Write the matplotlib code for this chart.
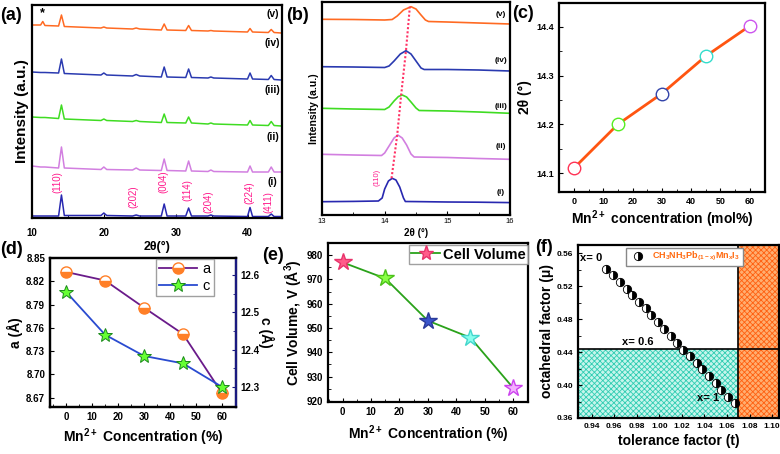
import numpy as np
import matplotlib
matplotlib.use('Agg')
import matplotlib.pyplot as plt
from matplotlib.lines import Line2D
from matplotlib.ticker import MultipleLocator, FormatStrFormatter

plt.rcParams['font.family'] = ['Liberation Sans', 'DejaVu Sans']
plt.rcParams['font.weight'] = 'bold'
plt.rcParams['axes.labelweight'] = 'bold'
plt.rcParams['mathtext.fontset'] = 'custom'
plt.rcParams['mathtext.default'] = 'bf'
plt.rcParams['mathtext.bf'] = 'Liberation Sans:bold'
plt.rcParams['mathtext.rm'] = 'Liberation Sans:bold'
plt.rcParams['axes.linewidth'] = 1.6
plt.rcParams['xtick.direction'] = 'in'
plt.rcParams['ytick.direction'] = 'in'
plt.rcParams['hatch.linewidth'] = 0.6

# ---- (a) XRD patterns (arb. units above each baseline)
xrd_2theta = [10.0, 11.2, 11.5, 11.8, 13.7, 14.1, 14.5, 19.6, 20.0, 20.4, 24.0, 24.5, 25.0,
              28.0, 28.4, 28.8, 31.4, 31.8, 32.2, 34.5, 34.9, 35.3, 40.0, 40.35, 40.7,
              42.9, 43.3, 43.7, 44.7]
xrd_i = [0, 0, 0, 0, 0, 21, 0.5, 0.5, 3, 0.5, 0, 1, 0, 0, 12, 0, 0, 8, 0, 0, 1, 0,
         -0.5, 8.5, -0.5, -0.5, 2, -0.5, -0.5]
xrd_ii = [6, 5, 5, 5, 4, 25, 4, 2.5, 5, 2.5, 2, 4, 2, 1.5, 13, 1.5, 1, 11, 1, 0.5, 2, 0.5,
          0, 6, 0, 0, 5, 0, 0]
xrd_iii = [9, 8.5, 8.5, 8.5, 7.5, 21, 7, 5.5, 7, 5.5, 4.5, 5.5, 4.5, 3.5, 12, 3.5, 3, 9, 3,
           2, 3, 2, 1, 5.5, 1, 0.5, 4.5, 0.5, 0]
xrd_iv = [8, 7.5, 7.5, 7.5, 7, 21, 6.5, 5, 7, 5, 4, 5.5, 4, 3, 13, 3, 2.5, 11, 2.5, 2, 3, 2,
          1, 7, 1, 0.5, 4.5, 0.5, 0]
xrd_v = [8, 8, 11.5, 7.5, 7, 18, 6.5, 5, 6, 5, 4, 5, 4, 3, 9, 3, 2.5, 7.5, 2.5, 2, 2.5, 2,
         1, 4.5, 1, 0.5, 3.5, 0.5, 0]
sample_names = ['(i)', '(ii)', '(iii)', '(iv)', '(v)']
hkl_labels = ['(110)', '(202)', '(004)', '(114)', '(204)', '(224)', '(411)']

# ---- (b) zoom on the (110) reflection
b_i_x = [13.0, 13.5, 13.9, 13.96, 14.0, 14.06, 14.12, 14.18, 14.24, 14.3, 14.33, 14.5, 15.0, 15.5, 16.0]
b_i_y = [13.3, 13.6, 14.0, 17.0, 26.0, 34.0, 36.7, 35.0, 28.0, 17.0, 13.5, 13.4, 13.0, 12.8, 12.4]
b_ii_x = [13.0, 13.5, 13.95, 14.0, 14.08, 14.15, 14.21, 14.28, 14.35, 14.42, 14.47, 15.0, 15.5, 16.0]
b_ii_y = [60.7, 60.0, 59.5, 62.0, 70.0, 77.0, 80.0, 77.0, 70.0, 61.0, 58.0, 57.5, 56.5, 55.7]
b_iii_x = [13.0, 13.5, 14.0, 14.07, 14.15, 14.22, 14.28, 14.35, 14.42, 14.5, 14.55, 15.0, 15.5, 16.0]
b_iii_y = [106.7, 106.0, 105.5, 108.0, 114.0, 118.5, 120.0, 118.0, 113.0, 107.0, 104.5, 104.0, 103.0, 101.7]
b_iv_x = [13.0, 13.5, 14.0, 14.07, 14.15, 14.25, 14.34, 14.42, 14.5, 14.58, 14.63, 15.0, 15.5, 16.0]
b_iv_y = [148.3, 148.0, 147.5, 149.0, 154.0, 161.0, 164.3, 161.0, 154.0, 147.0, 145.5, 145.5, 145.0, 144.0]
b_v_x = [13.0, 13.5, 14.0, 14.12, 14.2, 14.3, 14.42, 14.5, 14.58, 14.65, 14.7, 15.0, 15.5, 16.0]
b_v_y = [195.7, 195.5, 195.0, 195.5, 199.0, 205.0, 208.3, 206.0, 200.0, 195.0, 193.5, 193.0, 192.0, 191.0]

# ---- (c)-(e) versus Mn2+ content
mn_conc = [0, 15, 30, 45, 60]
peak_110 = [14.11, 14.20, 14.263, 14.34, 14.402]
lat_a = [8.832, 8.821, 8.786, 8.752, 8.676]
lat_c = [12.555, 12.440, 12.383, 12.363, 12.300]
cell_vol = [977.0, 970.4, 953.0, 946.0, 925.4]

# ---- (f) tolerance / octahedral factor, x = 0 ... 1
tol_t = [0.953, 0.959, 0.965, 0.971, 0.976, 0.982, 0.988, 0.993, 0.999, 1.004, 1.010,
         1.016, 1.021, 1.027, 1.033, 1.038, 1.044, 1.050, 1.055, 1.061, 1.067]
oct_mu = [0.541, 0.533, 0.525, 0.517, 0.509, 0.501, 0.493, 0.485, 0.476, 0.468, 0.459,
          0.451, 0.443, 0.435, 0.427, 0.419, 0.411, 0.402, 0.394, 0.386, 0.378]
mu_limit = 0.4435
t_limit = 1.07

W, H = 780, 454
fig = plt.figure(figsize=(W / 100, H / 100), dpi=100)


def box(l, t, r, b):
    # axes rectangle from pixel edges
    return [l / W, 1 - b / H, (r - l) / W, (b - t) / H]


def ftext(x, y, s, **kw):
    fig.text(x / W, 1 - y / H, s, **kw)


# ---------------- (a)
ax = fig.add_axes(box(32, 5, 282, 218))
trace_colors = ['#2828b0', '#d27fe0', '#3fdc22', '#2a3ab0', '#ff6a22']
offsets = [2, 46, 92, 138, 185]
for ints, off, col in zip([xrd_i, xrd_ii, xrd_iii, xrd_iv, xrd_v], offsets, trace_colors):
    ax.plot(xrd_2theta, np.array(ints) + off, color=col, lw=1.1)
ax.set_xlim(10, 44.8)
ax.set_ylim(0, 213)
ax.set_yticks([])
ax.xaxis.set_major_locator(MultipleLocator(10))
ax.xaxis.set_minor_locator(MultipleLocator(5))
ax.tick_params(axis='x', labelsize=7, length=3, pad=7)
ax.tick_params(axis='x', which='minor', length=2)
ax.set_xlabel('2θ(°)', fontsize=9, labelpad=2)
ax.set_ylabel('Intensity (a.u.)', fontsize=11, labelpad=2)
hkl_pos = [(13.6, 36), (24.1, 21), (28.3, 36), (31.6, 28), (34.5, 16), (40.2, 25), (42.9, 16)]
for lab, (xx, yy) in zip(hkl_labels, hkl_pos):
    ax.text(xx, yy, lab, rotation=90, color='#ff1a8c', fontsize=7, fontweight='normal',
            ha='center', va='center')
for name, yy in zip(sample_names, [36, 81, 128, 175, 204]):
    ax.text(43.5, yy, name, fontsize=7.5, ha='center', va='center')
ax.text(11.5, 205, '*', fontsize=9, ha='center', va='center')

# ---------------- (b)
axb = fig.add_axes(box(322, 2, 510, 215))
b_traces = [(b_i_x, b_i_y), (b_ii_x, b_ii_y), (b_iii_x, b_iii_y), (b_iv_x, b_iv_y), (b_v_x, b_v_y)]
for (xs, ys), col in zip(b_traces, trace_colors):
    axb.plot(xs, ys, color=col, lw=1.2)
tops = [max(ys) for xs, ys in b_traces]
axb.plot(peak_110, tops, color='#ff3366', ls=(0, (1, 1)), lw=1.5)
axb.set_xlim(13, 16)
axb.set_ylim(0, 213)
axb.set_yticks([])
axb.xaxis.set_major_locator(MultipleLocator(1))
axb.xaxis.set_minor_locator(MultipleLocator(0.5))
axb.tick_params(axis='x', labelsize=5.5, length=3, pad=2)
for lab in axb.get_xticklabels():
    lab.set_fontweight('normal')
axb.set_xlabel('2θ (°)', fontsize=7, labelpad=2)
axb.set_ylabel('Intensity (a.u.)', fontsize=7.5, labelpad=2)
for name, yy in zip(sample_names, [22, 68, 108, 154, 200]):
    axb.text(15.85, yy, name, fontsize=6, ha='center', va='center')
axb.text(13.88, 38, '(110)', rotation=90, color='#ff1a8c', fontsize=5.5, fontweight='normal',
         ha='center', va='center')

# ---------------- (c)
axc = fig.add_axes(box(559, 3, 765, 192))
c_edges = ['#ff3355', '#55ee22', '#3344aa', '#33ddcc', '#cc55ee']
axc.plot(mn_conc, peak_110, color='#ff5511', lw=2, zorder=2)
for xx, yy, ec in zip(mn_conc, peak_110, c_edges):
    axc.plot(xx, yy, 'o', ms=9, mfc='white', mec=ec, mew=1, zorder=3)
axc.set_xlim(-5.1, 65.2)
axc.set_ylim(14.061, 14.449)
axc.xaxis.set_major_locator(MultipleLocator(10))
axc.xaxis.set_minor_locator(MultipleLocator(5))
axc.yaxis.set_major_locator(MultipleLocator(0.1))
axc.yaxis.set_minor_locator(MultipleLocator(0.05))
axc.tick_params(labelsize=6.5, length=3)
axc.tick_params(which='minor', length=2)
axc.set_xlabel('Mn$^{2+}$ concentration (mol%)', fontsize=10, labelpad=2)
axc.set_ylabel('2θ (°)', fontsize=10, labelpad=3)

# ---------------- (d)
axd = fig.add_axes(box(50, 258, 236, 407))
axd.plot(mn_conc, lat_a, color='#6a1b8a', lw=1.3, marker='o', ms=8, mfc='#ff7f27',
         mfcalt='white', fillstyle='bottom', mec='#ff7f27', mew=1)
axd.set_xlim(-6.2, 65.4)
axd.set_ylim(8.658, 8.85)
axd.set_yticks([8.67, 8.70, 8.73, 8.76, 8.79, 8.82, 8.85])
axd.yaxis.set_major_formatter(FormatStrFormatter('%.2f'))
axd.xaxis.set_major_locator(MultipleLocator(10))
axd.xaxis.set_minor_locator(MultipleLocator(5))
axd.tick_params(labelsize=7, length=3)
axd.tick_params(which='minor', length=2)
axd.set_xlabel('Mn$^{2+}$ Concentration (%)', fontsize=10, labelpad=3)
axd.set_ylabel('a (Å)', fontsize=10, labelpad=2)
axd2 = axd.twinx()
axd2.plot(mn_conc, lat_c, color='#2a4bd0', lw=1.3, marker='*', ms=10, mfc='#66ff33',
          mec='#1a8a1a', mew=0.7)
axd2.set_ylim(12.246, 12.646)
axd2.yaxis.set_major_locator(MultipleLocator(0.1))
axd2.yaxis.set_minor_locator(MultipleLocator(0.05))
axd2.yaxis.set_major_formatter(FormatStrFormatter('%.1f'))
axd2.tick_params(labelsize=7, length=3, color='#1a1a80')
axd2.tick_params(which='minor', length=2, color='#1a1a80')
axd2.spines['right'].set_color('#1a1a80')
axd2.set_ylabel('c (Å)', fontsize=10, rotation=270, labelpad=10)
hd = [Line2D([], [], color='#6a1b8a', lw=1.3, marker='o', ms=8, mfc='#ff7f27', mfcalt='white',
             fillstyle='bottom', mec='#ff7f27'),
      Line2D([], [], color='#2a4bd0', lw=1.3, marker='*', ms=10, mfc='#66ff33', mec='#1a8a1a', mew=0.7)]
axd2.legend(hd, ['a', 'c'], loc='upper left', bbox_to_anchor=(0.57, 0.99),
            prop={'weight': 'normal', 'size': 10.5}, fancybox=False, edgecolor='#888888',
            handlelength=2.6, borderpad=0.2, labelspacing=0.2, handletextpad=0.4,
            borderaxespad=0)

# ---------------- (e)
axe = fig.add_axes(box(328, 243, 528, 402))
star_face = ['#ff5c8a', '#88ff44', '#3a55cc', '#88ffee', '#f4b0ff']
star_edge = ['#e8336b', '#4cc21a', '#2a3a9a', '#44d6cc', '#cc44ee']
axe.plot(mn_conc, cell_vol, color='#2aa21a', lw=1.3, zorder=2)
for xx, yy, fc, ec in zip(mn_conc, cell_vol, star_face, star_edge):
    axe.plot(xx, yy, '*', ms=13, mfc=fc, mec=ec, mew=1, zorder=3)
axe.set_xlim(-5.2, 65.3)
axe.set_ylim(919.5, 985)
axe.xaxis.set_major_locator(MultipleLocator(10))
axe.xaxis.set_minor_locator(MultipleLocator(5))
axe.yaxis.set_major_locator(MultipleLocator(10))
axe.yaxis.set_minor_locator(MultipleLocator(5))
axe.tick_params(labelsize=7, length=3)
axe.tick_params(which='minor', length=2)
axe.set_xlabel('Mn$^{2+}$ Concentration (%)', fontsize=10, labelpad=5)
axe.set_ylabel('Cell Volume, V (Å$^3$)', fontsize=10, labelpad=3)
he = [Line2D([], [], color='#2aa21a', lw=1.3, marker='*', ms=11, mfc='#ff5c8a', mec='#e8336b')]
axe.legend(he, ['Cell Volume'], loc='upper right', bbox_to_anchor=(1.0, 0.985),
           prop={'weight': 'bold', 'size': 10.5}, fancybox=False, edgecolor='#888888',
           handlelength=2.0, borderpad=0.15, handletextpad=0.2, borderaxespad=0)

# ---------------- (f)
axf = fig.add_axes(box(578, 245, 779, 418))
axf.set_xlim(0.928, 1.106)
axf.set_ylim(0.36, 0.570)
axf.fill_between([0.928, t_limit], 0.36, mu_limit, facecolor='#c6f5ec', hatch='xxxxxx',
                 edgecolor='#30cdb2', lw=0, zorder=0)
axf.axvspan(t_limit, 1.106, facecolor='#ffae70', hatch='xxxxxx', edgecolor='#ff6010', lw=0, zorder=0)
axf.axhline(mu_limit, color='black', lw=1.2, zorder=1)
axf.axvline(t_limit, color='black', lw=1.2, zorder=1)
axf.plot(tol_t, oct_mu, 'o', ls='', ms=6, mfc='black', mfcalt='white', fillstyle='right',
         mec='black', mew=0.6, zorder=3)
axf.xaxis.set_major_locator(MultipleLocator(0.02))
axf.xaxis.set_major_formatter(FormatStrFormatter('%.2f'))
axf.yaxis.set_major_locator(MultipleLocator(0.04))
axf.yaxis.set_minor_locator(MultipleLocator(0.02))
axf.yaxis.set_major_formatter(FormatStrFormatter('%.2f'))
axf.tick_params(labelsize=6, length=3)
axf.tick_params(which='minor', length=2)
axf.set_xlabel('tolerance factor (t)', fontsize=10, labelpad=3)
axf.set_ylabel('octahedral factor (μ)', fontsize=10, labelpad=2)
axf.text(0.9294, 0.554, 'x= 0', fontsize=8, va='center')
axf.text(0.9674, 0.452, 'x= 0.6', fontsize=8, va='center')
axf.text(1.0337, 0.384, 'x= 1', fontsize=8, va='center')
hf = [Line2D([], [], marker='o', ls='', ms=6, mfc='black', mfcalt='white', fillstyle='right',
             mec='black', mew=0.6)]
axf.legend(hf, ['CH$_3$NH$_3$Pb$_{(1-x)}$Mn$_x$I$_3$'], loc='upper left',
           bbox_to_anchor=(0.24, 0.985), prop={'weight': 'bold', 'size': 6.5},
           labelcolor='#ff6a10', fancybox=False, edgecolor='#888888', framealpha=1,
           borderpad=0.3, handletextpad=0.6, borderaxespad=0)

# panel letters
for lab, (xx, yy) in zip(['(a)', '(b)', '(c)', '(d)', '(e)', '(f)'],
                         [(0, 15), (286, 15), (512, 13), (0, 250), (262, 255), (535, 248)]):
    ftext(xx, yy, lab, fontsize=13, ha='left', va='center')

fig.savefig('out.png', dpi=100)
